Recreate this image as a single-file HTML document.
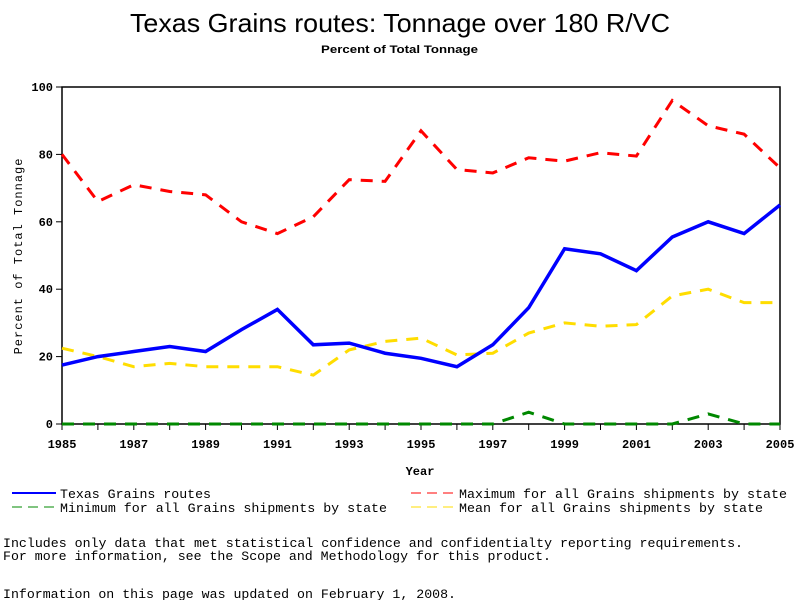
<!DOCTYPE html>
<html><head><meta charset="utf-8"><style>
body{margin:0;background:#fff;width:800px;height:600px;overflow:hidden}
svg{display:block}
</style></head><body>
<svg id="c" width="800" height="600" xmlns="http://www.w3.org/2000/svg">
<text x="130" y="32" textLength="540" lengthAdjust="spacingAndGlyphs" font-family="Liberation Sans, sans-serif" font-size="26">Texas Grains routes: Tonnage over 180 R/VC</text>
<text x="321" y="53" textLength="157" lengthAdjust="spacingAndGlyphs" font-family="Liberation Sans, sans-serif" font-size="11" font-weight="bold">Percent of Total Tonnage</text>
<rect x="62" y="87" width="718" height="337" fill="none" stroke="#000" stroke-width="1.5"/>
<g id="axes"></g>
<g id="series"></g>
<text x="420" y="475" text-anchor="middle" font-family="Liberation Mono, monospace" font-size="12" font-weight="bold">Year</text>
<text transform="translate(22,256) rotate(-90)" text-anchor="middle" font-family="Liberation Mono, monospace" font-size="12" letter-spacing="1">Percent of Total Tonnage</text>
<g font-family="Liberation Mono, monospace" font-size="13">
<g><line x1="12" y1="493" x2="56" y2="493" stroke="#00f" stroke-width="2"/><text x="60" y="498" textLength="151" lengthAdjust="spacingAndGlyphs">Texas Grains routes</text></g>
<g><line x1="12" y1="507" x2="56" y2="507" stroke="#080" stroke-width="1" stroke-dasharray="10,6"/><text x="60" y="512" textLength="327" lengthAdjust="spacingAndGlyphs">Minimum for all Grains shipments by state</text></g>
<g><line x1="411" y1="493" x2="455" y2="493" stroke="#f00" stroke-width="1" stroke-dasharray="10,6"/><text x="459" y="498" textLength="328" lengthAdjust="spacingAndGlyphs">Maximum for all Grains shipments by state</text></g>
<g><line x1="411" y1="507" x2="455" y2="507" stroke="#fd0" stroke-width="1" stroke-dasharray="10,6"/><text x="459" y="512" textLength="304" lengthAdjust="spacingAndGlyphs">Mean for all Grains shipments by state</text></g>
<text x="3" y="547" textLength="740" lengthAdjust="spacingAndGlyphs">Includes only data that met statistical confidence and confidentialty reporting requirements.</text>
<text x="3" y="560" textLength="548" lengthAdjust="spacingAndGlyphs">For more information, see the Scope and Methodology for this product.</text>
<text x="3" y="598" textLength="453" lengthAdjust="spacingAndGlyphs">Information on this page was updated on February 1, 2008.</text>
</g>
</svg>
<script>
const years=[1985,1986,1987,1988,1989,1990,1991,1992,1993,1994,1995,1996,1997,1998,1999,2000,2001,2002,2003,2004,2005];
const texasValues=[17.5,20,21.5,23,21.5,28,34,23.5,24,21,19.5,17,23.5,34.5,52,50.5,45.5,55.5,60,56.5,65];
const maxValues=[80,66,71,69,68,60,56.5,61.5,72.5,72,87,75.5,74.5,79,78,80.5,79.5,96,88.5,86,76];
const meanValues=[22.5,20,17,18,17,17,17,14.5,22,24.5,25.5,20.5,21,27,30,29,29.5,38,40,36,36];
const minValues=[0,0,0,0,0,0,0,0,0,0,0,0,0,3.5,0,0,0,0,3,0,0];
const xTicks=[1985,1987,1989,1991,1993,1995,1997,1999,2001,2003,2005];
const yTicks=[0,20,40,60,80,100];
const NS="http://www.w3.org/2000/svg";
const xs=y=>62+(y-1985)*(718/20);
const ys=v=>424-v*3.37;
const axes=document.getElementById('axes'),ser=document.getElementById('series');
function mk(t,a,p){const e=document.createElementNS(NS,t);for(const k in a)e.setAttribute(k,a[k]);p.appendChild(e);return e;}
years.forEach(y=>{const l=mk('line',{x1:xs(y),x2:xs(y),y1:424,y2:430,stroke:'#000'},axes);

});
xTicks.forEach(y=>{const t=mk('text',{x:xs(y),y:448,'text-anchor':'middle','font-family':'Liberation Mono, monospace','font-size':'12','font-weight':'bold'},axes);t.textContent=y;

});
yTicks.forEach(v=>{const l=mk('line',{x1:56,x2:62,y1:ys(v),y2:ys(v),stroke:'#000'},axes);


const t=mk('text',{x:53,y:ys(v)+4,'text-anchor':'end','font-family':'Liberation Mono, monospace','font-size':'12','font-weight':'bold'},axes);t.textContent=v;

});
function line(vals,color,w,dash,name){const p=mk('polyline',{points:vals.map((v,i)=>xs(years[i])+','+ys(v)).join(' '),fill:'none',stroke:color,'stroke-width':w,'stroke-dasharray':dash},ser);

}
line(minValues,'#080',3,'12,9','series-minimum');
line(meanValues,'#fd0',3,'12,9','series-mean');
line(maxValues,'#f00',3,'12,9','series-maximum');
line(texasValues,'#00f',3.5,'none','series-texas');
</script>
</body></html>
